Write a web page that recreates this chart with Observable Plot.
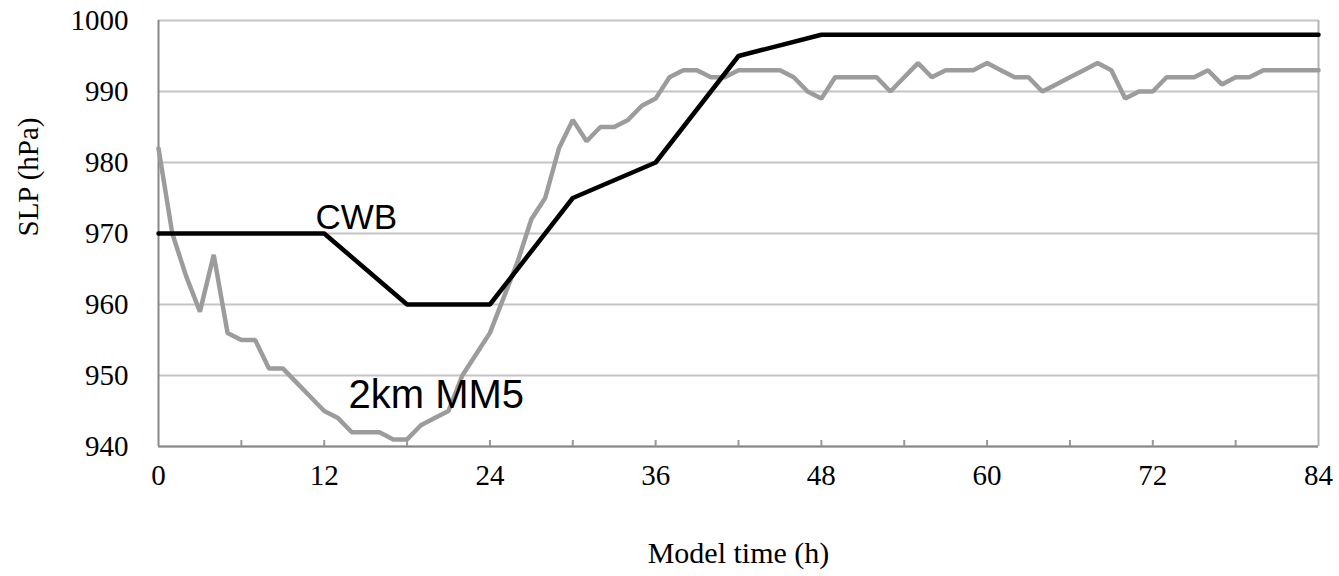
<!DOCTYPE html>
<html>
<head>
<meta charset="utf-8">
<script src="https://cdn.jsdelivr.net/npm/d3@7"></script>
<script src="https://cdn.jsdelivr.net/npm/@observablehq/plot@0.6"></script>
<style>
  html, body { margin: 0; padding: 0; background: #fff; }
</style>
</head>
<body>
<div id="chart"></div>
<script>
// Model time (h) for the 2km MM5 series (hourly output)
const mm5Hours = d3.range(0, 85);
// SLP (hPa), 2km MM5
const mm5Slp = [
  982, 970, 964, 959, 967, 956, 955, 955, 951, 951,
  949, 947, 945, 944, 942, 942, 942, 941, 941, 943,
  944, 945, 950, 953, 956, 961, 966, 972, 975, 982,
  986, 983, 985, 985, 986, 988, 989, 992, 993, 993,
  992, 992, 993, 993, 993, 993, 992, 990, 989, 992,
  992, 992, 992, 990, 992, 994, 992, 993, 993, 993,
  994, 993, 992, 992, 990, 991, 992, 993, 994, 993,
  989, 990, 990, 992, 992, 992, 993, 991, 992, 992,
  993, 993, 993, 993, 993
];
// CWB best track
const cwbHours = [0, 6, 12, 18, 24, 30, 36, 42, 48, 54, 60, 66, 72, 78, 84];
const cwbSlp   = [970, 970, 970, 960, 960, 975, 980, 995, 998, 998, 998, 998, 998, 998, 998];

const xLabelTicks = [0, 12, 24, 36, 48, 60, 72, 84];
const xMinorTicks = [6, 12, 18, 24, 30, 36, 42, 48, 54, 60, 66, 72, 78];
const yTicks = [940, 950, 960, 970, 980, 990, 1000];
const seriesNames = ["CWB", "2km MM5"];

const mm5 = mm5Hours.map((h, i) => ({h, p: mm5Slp[i]}));
const cwb = cwbHours.map((h, i) => ({h, p: cwbSlp[i]}));

const chart = Plot.plot({
  width: 1339,
  height: 576,
  marginLeft: 158,
  marginRight: 21,
  marginTop: 20,
  marginBottom: 130,
  style: {fontFamily: "'Liberation Serif', 'Times New Roman', serif", fontSize: "29px", color: "#000", background: "#fff"},
  x: {domain: [0, 84]},
  y: {domain: [940, 1000]},
  marks: [
    Plot.gridY(yTicks, {stroke: "#c4c4c4", strokeOpacity: 1, strokeWidth: 2}),
    Plot.ruleX([84], {stroke: "#b4b4b4", strokeWidth: 2}),
    Plot.ruleX([0], {stroke: "#888", strokeWidth: 2}),
    Plot.ruleY([940], {stroke: "#888", strokeWidth: 2}),
    Plot.axisX({ticks: xMinorTicks, tickSize: -6, tickFormat: () => "", stroke: "#999", strokeWidth: 2, label: null}),
    Plot.axisX({ticks: xLabelTicks, tickSize: 0, tickPadding: 18, tickFormat: d => String(d), label: null}),
    Plot.axisY({ticks: yTicks, tickSize: 0, tickPadding: 30, tickFormat: d => String(d), label: null}),
    Plot.line(mm5, {x: "h", y: "p", stroke: "#9c9c9c", strokeWidth: 4.5, strokeLinejoin: "miter"}),
    Plot.line(cwb, {x: "h", y: "p", stroke: "#000", strokeWidth: 4.5, strokeLinejoin: "miter"}),
    Plot.text([seriesNames[0]], {x: 11.37, y: 970.7, textAnchor: "start", lineAnchor: "bottom", fontFamily: "'Liberation Sans', Arial, sans-serif", fontSize: 35, fill: "#000"}),
    Plot.text([seriesNames[1]], {x: 13.76, y: 945.4, textAnchor: "start", lineAnchor: "bottom", fontFamily: "'Liberation Sans', Arial, sans-serif", fontSize: 40, fill: "#000"}),
    Plot.text(["Model time (h)"], {frameAnchor: "bottom", dy: 107, lineAnchor: "middle", fontSize: 30, fill: "#000"}),
    Plot.text(["SLP (hPa)"], {frameAnchor: "left", dx: -130, dy: 3, rotate: -90, lineAnchor: "middle", fontSize: 29, fill: "#000"})
  ]
});
document.getElementById("chart").appendChild(chart);
</script>
</body>
</html>
